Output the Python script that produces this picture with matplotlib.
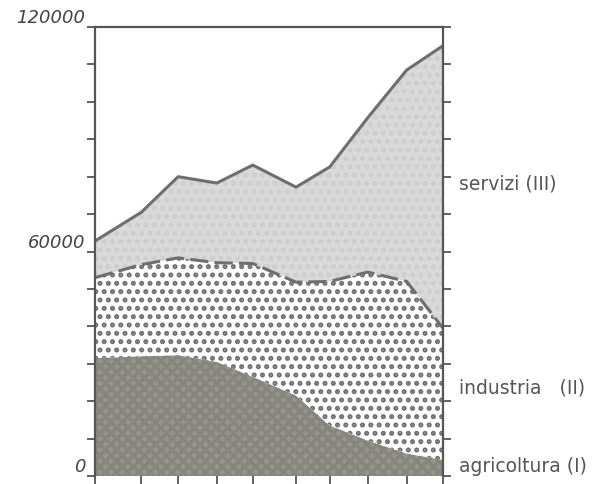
import numpy as np
import matplotlib
matplotlib.use("Agg")
import matplotlib.pyplot as plt
import matplotlib.transforms as mtransforms

# dati
anni = [0, 1.2, 2.15, 3.15, 4.08, 5.2, 6.07, 7.05, 8.06, 9.0]
agricoltura = [31500, 32000, 32300, 30500, 26500, 21500, 13500, 9500, 6000, 4300]
industria = [21500, 24500, 26000, 26500, 30300, 30300, 38500, 45000, 46000, 35200]
servizi = [9800, 14000, 21700, 21300, 26300, 25400, 30600, 41200, 56500, 75500]
etichette = ["agricoltura (I)", "industria   (II)", "servizi (III)"]
pos_etichette = [2500, 23500, 78000]
yticks_lab = {0: "0", 60000: "60000", 120000: "120000"}

x = np.array(anni)
liv1 = np.array(agricoltura)
liv2 = liv1 + np.array(industria)
liv3 = liv2 + np.array(servizi)

plt.rcParams["hatch.linewidth"] = 2.4
fig = plt.figure(figsize=(6.14, 4.84), dpi=100)
ax = fig.add_axes([0.1547, 0.0165, 0.5668, 0.9277])

# aree
ax.fill_between(x, 0, liv1, facecolor="#94948c", edgecolor="#86867e", hatch="xxx", linewidth=0)
ax.fill_between(x, liv1, liv2, facecolor="white", edgecolor="#707070", hatch="..", linewidth=0)
ax.fill_between(x, liv2, liv3, facecolor="#d9d9d9", edgecolor="#cecece", hatch="..", linewidth=0)

# bordi
ax.plot(x, liv3, color="#6e6e6e", lw=2.2)
ax.plot(x, liv2, color="#6e6e6e", lw=2.2, dashes=(6, 2))

ax.set_xlim(0, 9)
ax.set_ylim(0, 120000)

grigio = "#555555"
for s in ["left", "right", "top"]:
    ax.spines[s].set_color(grigio)
    ax.spines[s].set_linewidth(1.6)
ax.spines["bottom"].set_visible(False)

ax.set_xticks(x)
ax.set_xticklabels([])
ax.set_yticks(np.arange(0, 120001, 10000))
ax.set_yticklabels([yticks_lab.get(v, "") for v in range(0, 120001, 10000)],
                   fontstyle="italic", fontsize=13, color="#444444")
for t in ax.get_yticklabels():
    t.set_verticalalignment("bottom")
ax.tick_params(axis="both", direction="out", length=6, width=1.3, color=grigio)
ax.tick_params(axis="y", right=True, pad=1)

tr = mtransforms.blended_transform_factory(ax.transAxes, ax.transData)
for lab, yy in zip(etichette, pos_etichette):
    ax.text(1.045, yy, lab, transform=tr, fontsize=13.5, color="#555555",
            va="center", ha="left")

fig.savefig("out.png", dpi=100)
